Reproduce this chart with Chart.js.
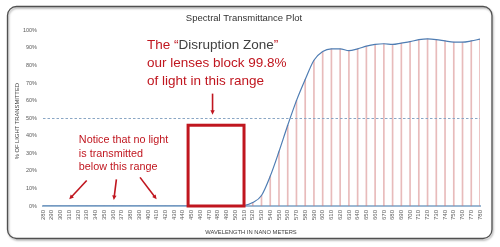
<!DOCTYPE html>
<html>
<head>
<meta charset="utf-8">
<script src="https://cdn.jsdelivr.net/npm/chart.js@4/dist/chart.umd.min.js"></script>
<style>
  html, body { margin: 0; padding: 0; background: #fff; }
  #wrap { width: 500px; height: 247px; position: relative; }
</style>
</head>
<body>
<div id="wrap"><canvas id="spectralChart"></canvas></div>
<script>
// wavelength in nm, one point every 10 nm
const wavelengths = [280, 290, 300, 310, 320, 330, 340, 350, 360, 370, 380, 390, 400, 410, 420, 430, 440, 450, 460, 470,
  480, 490, 500, 510, 520, 530, 540, 550, 560, 570, 580, 590, 600, 610, 620, 630, 640, 650, 660, 670,
  680, 690, 700, 710, 720, 730, 740, 750, 760, 770, 780];

// % of light transmitted
const transmittance = [0, 0, 0, 0, 0, 0, 0, 0, 0, 0, 0, 0, 0, 0, 0, 0, 0, 0, 0, 0,
  0, 0, 0, 0.3, 2, 6, 17, 31, 46, 60, 72, 83, 88, 89.5, 89.5, 88.5, 89.5, 91, 92, 92.4,
  92, 92.8, 93.6, 94.7, 95.2, 94.8, 94, 93.3, 93.3, 94, 95];

// annotation anchors, in nm / %
const threshold = 50;
const zone = { from: 446, to: 510, top: 46 };
const zoneArrow = [474, 64, 474, 52];
const noLightArrows = [
  [330, 14.5, 310, 3.8],
  [364, 15.2, 361, 3.4],
  [391, 16.3, 410, 3.8],
];
const zoneLines = ['our lenses block 99.8%', 'of light in this range'];
const noteLines = ['Notice that no light', 'is transmitted', 'below this range'];

const RED = '#c0161f';
const FONT = '"Liberation Sans", Arial, sans-serif';

function drawArrow(ctx, x1, y1, x2, y2) {
  const ang = Math.atan2(y2 - y1, x2 - x1);
  const head = 5;
  ctx.beginPath();
  ctx.moveTo(x1, y1);
  ctx.lineTo(x2 - Math.cos(ang) * head * 0.7, y2 - Math.sin(ang) * head * 0.7);
  ctx.stroke();
  ctx.beginPath();
  ctx.moveTo(x2, y2);
  ctx.lineTo(x2 - head * Math.cos(ang - 0.45), y2 - head * Math.sin(ang - 0.45));
  ctx.lineTo(x2 - head * Math.cos(ang + 0.45), y2 - head * Math.sin(ang + 0.45));
  ctx.closePath();
  ctx.fill();
}

const annotations = {
  id: 'annotations',
  beforeDraw(chart) {
    const ctx = chart.ctx;
    ctx.save();
    ctx.fillStyle = '#fff';
    ctx.fillRect(0, 0, chart.width, chart.height);
    // rounded frame
    ctx.shadowColor = 'rgba(0,0,0,0.35)';
    ctx.shadowOffsetX = 1;
    ctx.shadowOffsetY = 1.5;
    ctx.shadowBlur = 2;
    ctx.strokeStyle = '#505050';
    ctx.lineWidth = 1.3;
    ctx.beginPath();
    ctx.roundRect(7.5, 6.5, 484.5, 232, 9);
    ctx.stroke();
    ctx.restore();
  },
  afterDatasetsDraw(chart) {
    const { ctx, chartArea, scales: { x, y } } = chart;
    ctx.save();

    // 50% reference line
    ctx.strokeStyle = '#8aa6c4';
    ctx.lineWidth = 1;
    ctx.setLineDash([2.5, 2]);
    ctx.beginPath();
    const yt = Math.round(y.getPixelForValue(threshold)) + 0.5;
    ctx.moveTo(chartArea.left, yt);
    ctx.lineTo(chartArea.right, yt);
    ctx.stroke();
    ctx.setLineDash([]);

    // disruption zone box
    ctx.strokeStyle = RED;
    ctx.lineWidth = 3;
    const zx1 = x.getPixelForValue(zone.from), zx2 = x.getPixelForValue(zone.to);
    const zy1 = y.getPixelForValue(zone.top), zy2 = y.getPixelForValue(0);
    ctx.strokeRect(zx1, zy1, zx2 - zx1, zy2 - zy1);

    // arrows
    ctx.fillStyle = RED;
    ctx.lineWidth = 1.6;
    const arrows = [zoneArrow, ...noLightArrows];
    arrows.forEach(a => drawArrow(ctx,
      x.getPixelForValue(a[0]), y.getPixelForValue(a[1]),
      x.getPixelForValue(a[2]), y.getPixelForValue(a[3])));

    // disruption zone text
    ctx.textBaseline = 'middle';
    ctx.textAlign = 'left';
    ctx.font = '13.5px ' + FONT;
    let tx = x.getPixelForValue(399);
    const ty = y.getPixelForValue(91.5);
    const parts = [['The \u201C', RED], ['Disruption Zone', '#404040'], ['\u201D', RED]];
    parts.forEach(([t, c]) => {
      ctx.fillStyle = c;
      ctx.fillText(t, tx, ty);
      tx += ctx.measureText(t).width;
    });
    ctx.fillStyle = RED;
    zoneLines.forEach((t, i) => ctx.fillText(t, x.getPixelForValue(399), ty + 18 * (i + 1)));

    // note text
    ctx.font = '10.8px ' + FONT;
    const nx = x.getPixelForValue(321);
    const ny = y.getPixelForValue(37.5);
    noteLines.forEach((t, i) => ctx.fillText(t, nx, ny + 13.6 * i));

    // axis titles
    ctx.fillStyle = '#404040';
    ctx.font = '5.8px ' + FONT;
    ctx.textAlign = 'center';
    ctx.fillText('WAVELENGTH IN NANO METERS', 251, 232);
    ctx.translate(17, (chartArea.top + chartArea.bottom) / 2 + 3);
    ctx.rotate(-Math.PI / 2);
    ctx.fillText('% OF LIGHT TRANSMITTED', 0, 0);

    ctx.restore();
  }
};

const points = wavelengths.map((w, i) => ({ x: w, y: transmittance[i] }));

new Chart(document.getElementById('spectralChart'), {
  type: 'line',
  data: {
    datasets: [
      {
        type: 'line',
        label: 'Transmittance',
        data: points,
        borderColor: '#4f7db3',
        borderWidth: 1.2,
        pointRadius: 0,
        cubicInterpolationMode: 'monotone',
        order: 1,
      },
      {
        type: 'bar',
        label: 'Drop lines',
        data: points,
        backgroundColor: 'rgba(210,120,120,0.5)',
        barThickness: 1,
        order: 2,
      },
    ],
  },
  options: {
    responsive: true,
    maintainAspectRatio: false,
    animation: false,
    layout: { padding: { left: 8, right: 20, top: 0, bottom: 0 } },
    plugins: {
      legend: { display: false },
      tooltip: { enabled: false },
      title: {
        display: true,
        text: 'Spectral Transmittance Plot',
        color: '#333',
        font: { family: FONT, size: 9.5, weight: 'normal' },
        padding: { top: 13, bottom: 6 },
      },
    },
    scales: {
      x: {
        type: 'linear',
        min: 280,
        max: 780,
        offset: false,
        grid: { display: false, drawTicks: false },
        border: { color: '#9bb8d3', width: 2 },
        ticks: {
          stepSize: 10,
          autoSkip: false,
          minRotation: 90,
          maxRotation: 90,
          padding: 4,
          color: '#595959',
          font: { family: FONT, size: 6 },
        },
        afterFit(scale) { scale.height = 41; },
      },
      y: {
        min: 0,
        max: 100,
        grid: { display: false, drawTicks: false },
        border: { display: false },
        ticks: {
          stepSize: 10,
          padding: 6,
          color: '#595959',
          font: { family: FONT, size: 5.5 },
          callback: v => v + '%',
        },
        afterFit(scale) { scale.width = 35; },
      },
    },
  },
  plugins: [annotations],
});
</script>
</body>
</html>
